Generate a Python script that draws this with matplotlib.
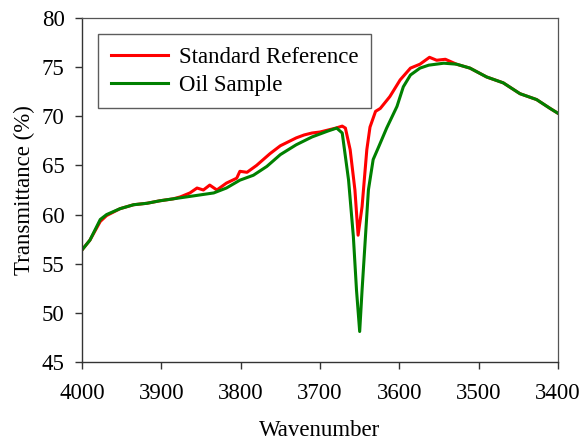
import matplotlib
matplotlib.use("Agg")
import matplotlib.pyplot as plt

plt.rcParams['font.family'] = ['Liberation Serif', 'DejaVu Serif']

ref_x = [4000, 3990, 3977, 3969, 3952, 3935, 3918, 3902, 3885, 3876, 3864, 3855, 3847,
         3839, 3830, 3818, 3805, 3801, 3792, 3780, 3763, 3750, 3740, 3730, 3720, 3710,
         3700, 3690, 3680, 3672, 3668, 3662, 3656, 3652, 3647, 3641, 3637, 3630, 3624,
         3612, 3599, 3586, 3574, 3562, 3553, 3542, 3528, 3511, 3490, 3469, 3448, 3427,
         3410, 3400]
ref_y = [56.4, 57.4, 59.3, 59.9, 60.6, 61.0, 61.15, 61.4, 61.6, 61.8, 62.2, 62.7, 62.5,
         63.0, 62.5, 63.2, 63.7, 64.4, 64.3, 65.0, 66.2, 67.0, 67.4, 67.8, 68.1, 68.3,
         68.4, 68.6, 68.8, 69.0, 68.8, 66.6, 62.5, 57.9, 60.8, 66.6, 68.9, 70.5, 70.8,
         72.0, 73.7, 74.9, 75.3, 76.0, 75.7, 75.8, 75.3, 74.9, 74.0, 73.4, 72.3, 71.7,
         70.8, 70.3]

oil_x = [4000, 3990, 3977, 3969, 3952, 3935, 3918, 3902, 3885, 3868, 3851, 3834, 3818,
         3801, 3784, 3767, 3750, 3730, 3710, 3700, 3690, 3679, 3672, 3664, 3658, 3654,
         3650, 3647, 3643, 3639, 3633, 3626, 3616, 3603, 3595, 3586, 3574, 3563, 3544,
         3528, 3511, 3490, 3469, 3448, 3427, 3410, 3400]
oil_y = [56.4, 57.4, 59.5, 60.0, 60.6, 61.0, 61.15, 61.4, 61.6, 61.8, 62.0, 62.2, 62.7,
         63.5, 64.0, 64.9, 66.1, 67.1, 67.9, 68.2, 68.5, 68.8, 68.3, 63.5, 57.8, 52.3,
         48.1, 52.3, 57.4, 62.5, 65.6, 66.9, 68.8, 71.0, 73.0, 74.2, 74.9, 75.2, 75.4,
         75.3, 74.9, 74.0, 73.4, 72.3, 71.7, 70.8, 70.3]

x_ticks = [4000, 3900, 3800, 3700, 3600, 3500, 3400]
y_ticks = [45, 50, 55, 60, 65, 70, 75, 80]

fig = plt.figure(figsize=(5.82, 4.42), dpi=100)
ax = fig.add_axes([0.1409, 0.181, 0.8179, 0.7783])

ax.plot(ref_x, ref_y, color='#ff0000', lw=2.2, label='Standard Reference')
ax.plot(oil_x, oil_y, color='#008000', lw=2.2, label='Oil Sample')

ax.set_xlim(4000, 3400)
ax.set_ylim(45, 80)
ax.set_xticks(x_ticks)
ax.set_yticks(y_ticks)
ax.tick_params(direction='out', length=5, width=1, labelsize=16.5, colors='#333333',
               labelcolor='black', top=False, right=False)
ax.tick_params(axis='x', pad=10)
ax.tick_params(axis='y', pad=7.5)
for s in ['left', 'bottom']:
    ax.spines[s].set_color('#333333')
    ax.spines[s].set_linewidth(1.0)
for s in ['top', 'right']:
    ax.spines[s].set_color('#555555')
    ax.spines[s].set_linewidth(0.9)

ax.set_xlabel('Wavenumber', fontsize=16.5, labelpad=12)
ax.set_ylabel('Transmittance (%)', fontsize=16.5, labelpad=5)

leg = ax.legend(loc='upper left', bbox_to_anchor=(0.0336, 0.9535), borderaxespad=0,
                fontsize=16.5, frameon=True, fancybox=False, handlelength=2.5,
                handletextpad=0.5, labelspacing=0.3, borderpad=0.55)
leg.get_frame().set_edgecolor('#333333')
leg.get_frame().set_linewidth(1.0)

fig.savefig('out.png', dpi=100)
